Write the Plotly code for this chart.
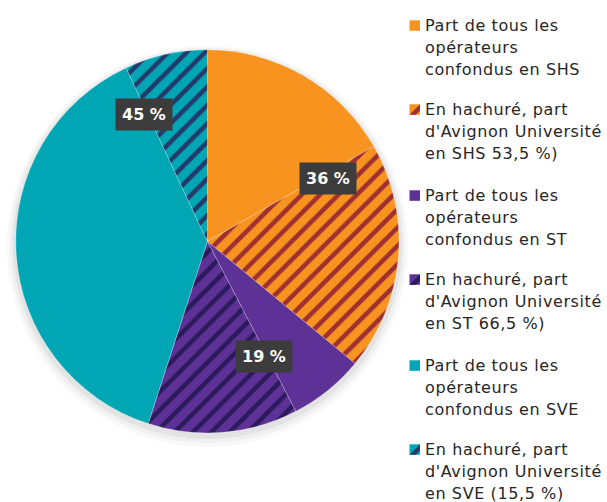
import plotly.graph_objects as go

# Data
domains = ["SHS", "ST", "SVE"]
totals = [36, 19, 45]                 # % of all operators per domain
avignon_share = [53.5, 66.5, 15.5]    # hatched part (% of the domain)
label_texts = ["36 %", "19 %", "45 %"]

legend_lines = [
    ["Part de tous les", "opérateurs", "confondus en SHS"],
    ["En hachuré, part", "d'Avignon Université", "en SHS 53,5 %)"],
    ["Part de tous les", "opérateurs", "confondus en ST"],
    ["En hachuré, part", "d'Avignon Université", "en ST 66,5 %)"],
    ["Part de tous les", "opérateurs", "confondus en SVE"],
    ["En hachuré, part", "d'Avignon Université", "en SVE (15,5 %)"],
]

base_colors = ["#F7931E", "#5E3196", "#00A6B4"]
stripe_colors = ["#9E2F32", "#2B1A5C", "#243A6B"]

values, colors, fg, shapes_pat, names = [], [], [], [], []
for t, s, bc, sc in zip(totals, avignon_share, base_colors, stripe_colors):
    values += [t * (100 - s) / 100, t * s / 100]
    colors += [bc, bc]
    fg += [bc, sc]
    shapes_pat += ["", "/"]
names = [" ".join(l) for l in legend_lines]

W, H = 607, 502
cx, cy, R = 207.4, 241.4, 191.6


def px(x):
    return x / W


def py(y):
    return 1 - y / H


fig = go.Figure()
fig.add_trace(go.Pie(
    labels=names,
    values=values,
    sort=False,
    direction="clockwise",
    rotation=0,
    textinfo="none",
    hoverinfo="skip",
    showlegend=False,
    marker=dict(
        colors=colors,
        line=dict(color="rgba(255,255,255,0.35)", width=0.7),
        pattern=dict(shape=shapes_pat, fgcolor=fg, bgcolor=colors,
                     size=13, solidity=0.35, fillmode="replace"),
    ),
    domain=dict(x=[px(cx - R), px(cx + R)], y=[py(cy + R), py(cy - R)]),
))

# soft shadow behind the pie
for grow, dy, a in [(9, 5, 0.025), (6, 4, 0.035), (3, 3, 0.05)]:
    fig.add_shape(type="circle", xref="paper", yref="paper", layer="below",
                  x0=px(cx - R - grow), x1=px(cx + R + grow),
                  y0=py(cy + R + grow + dy), y1=py(cy - R - grow + dy),
                  fillcolor=f"rgba(0,0,0,{a})", line=dict(width=0))

# value labels (dark boxes)
label_pos = [(327.5, 178.5), (263.5, 356), (143.5, 114.5)]
for txt, (lx, ly) in zip(label_texts, label_pos):
    fig.add_annotation(
        x=px(lx), y=py(ly), xref="paper", yref="paper",
        text="<b>" + txt + "</b>", showarrow=False,
        font=dict(family="DejaVu Sans", size=16, color="white"),
        bgcolor="#3C3C3C", borderpad=6,
        xanchor="center", yanchor="middle",
    )

# custom legend
item_tops = [19.3, 103.3, 189.3, 273.3, 359.3, 443.3]
line_gap = 22.0
sw_x0, sw_x1 = 409.5, 420
for i, (lines, top) in enumerate(zip(legend_lines, item_tops)):
    bc = colors[i]
    sc = fg[i]
    y0, y1 = top + 1, top + 11.5
    fig.add_shape(type="rect", xref="paper", yref="paper",
                  x0=px(sw_x0), x1=px(sw_x1), y0=py(y1), y1=py(y0),
                  fillcolor=bc, line=dict(width=0))
    if shapes_pat[i] == "/":
        w = sw_x1 - sw_x0
        h = y1 - y0
        pts = [(sw_x0, y1), (sw_x1, y0), (sw_x1, y0 + 0.6 * h), (sw_x0 + 0.6 * w, y1)]
        path = "M " + " L ".join(f"{px(a)},{py(b)}" for a, b in pts) + " Z"
        fig.add_shape(type="path", xref="paper", yref="paper", path=path,
                      fillcolor=sc, line=dict(width=0))
    for j, ln in enumerate(lines):
        fig.add_annotation(
            x=px(424), y=py(top + 6 + j * line_gap), xref="paper", yref="paper",
            text='<span style="letter-spacing:0.6px">' + ln + "</span>",
            showarrow=False, xanchor="left", yanchor="middle",
            borderpad=0,
            font=dict(family="DejaVu Sans", size=16, color="#262626"),
        )

fig.update_layout(
    width=W, height=H,
    margin=dict(l=0, r=0, t=0, b=0),
    paper_bgcolor="white",
    plot_bgcolor="white",
)

fig.write_html("out.html", config={"displayModeBar": False},
               post_script="document.body.style.margin='0px';")
